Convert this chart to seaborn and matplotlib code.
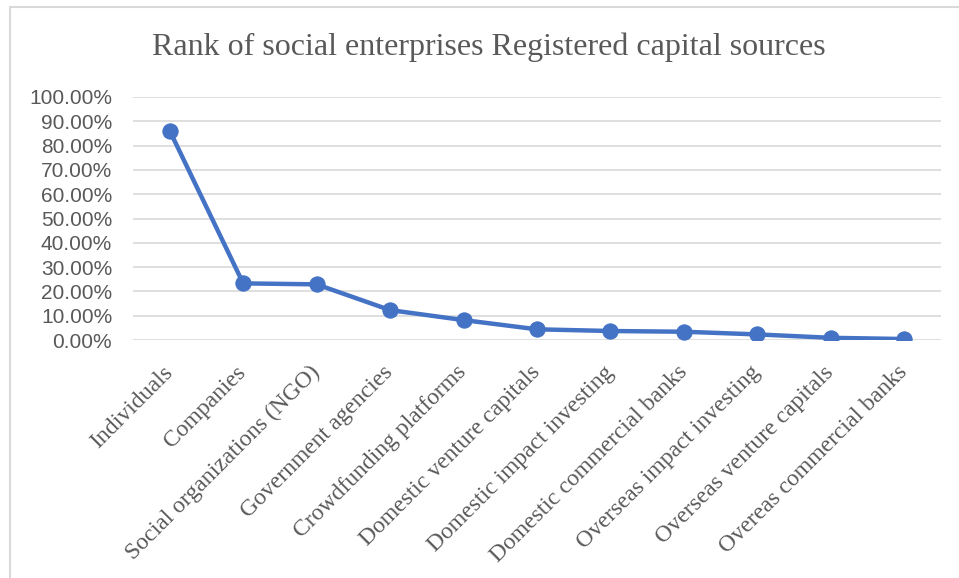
import matplotlib
matplotlib.use("Agg")
import matplotlib.pyplot as plt
from matplotlib.patches import Rectangle
from matplotlib.ticker import PercentFormatter
import pandas as pd
import seaborn as sns

# Data
sources = ["Individuals", "Companies", "Social organizations (NGO)",
           "Government agencies", "Crowdfunding platforms",
           "Domestic venture capitals", "Domestic impact investing",
           "Domestic commercial banks", "Overseas impact investing",
           "Overseas venture capitals", "Overeas commercial banks"]
shares = [0.861, 0.233, 0.229, 0.123, 0.082, 0.044, 0.037, 0.034, 0.023, 0.009, 0.004]

df = pd.DataFrame({"source": sources, "share": shares})

sns.set_style("white")
blue = "#4472C4"
grey_text = "#595959"

fig = plt.figure(figsize=(9.59, 5.78), dpi=100)
ax = fig.add_axes([133 / 959, 1 - 340 / 578, 808 / 959, 243 / 578])

sns.lineplot(data=df, x="source", y="share", sort=False, ax=ax,
             color=blue, linewidth=3.2, marker="o", markersize=11,
             markeredgecolor=blue)

ax.set_ylim(0, 1)
ax.set_xlim(-0.5, len(sources) - 0.5)
ax.set_yticks([i / 10 for i in range(11)])
ax.yaxis.set_major_formatter(PercentFormatter(xmax=1, decimals=2))
ax.grid(axis="y", color="#D9D9D9", linewidth=1.2)
ax.set_axisbelow(True)
sns.despine(ax=ax, left=True, bottom=True)
ax.tick_params(length=0)
ax.set_xlabel("")
ax.set_ylabel("")

for lab in ax.get_yticklabels():
    lab.set_fontfamily("Liberation Sans")
    lab.set_fontsize(15)
    lab.set_color(grey_text)
ax.tick_params(axis="y", pad=15)

ax.set_xticks(range(len(sources)))
ax.set_xticklabels(sources, rotation=45, ha="right", va="center",
                   rotation_mode="anchor", fontfamily="Liberation Serif",
                   fontsize=17, color=grey_text)
ax.tick_params(axis="x", pad=21)

fig.text(0.51, 1 - 47 / 578, "Rank of social enterprises Registered capital sources",
         ha="center", va="center", fontfamily="Liberation Serif",
         fontsize=23, color=grey_text)

# chart area border
fig.patches.append(Rectangle((10 / 959, -0.05), 1.1, 1 - 7 / 578 + 0.05,
                             transform=fig.transFigure, fill=False,
                             edgecolor="#D9D9D9", linewidth=1.5))

fig.savefig("out.png", dpi=100)
